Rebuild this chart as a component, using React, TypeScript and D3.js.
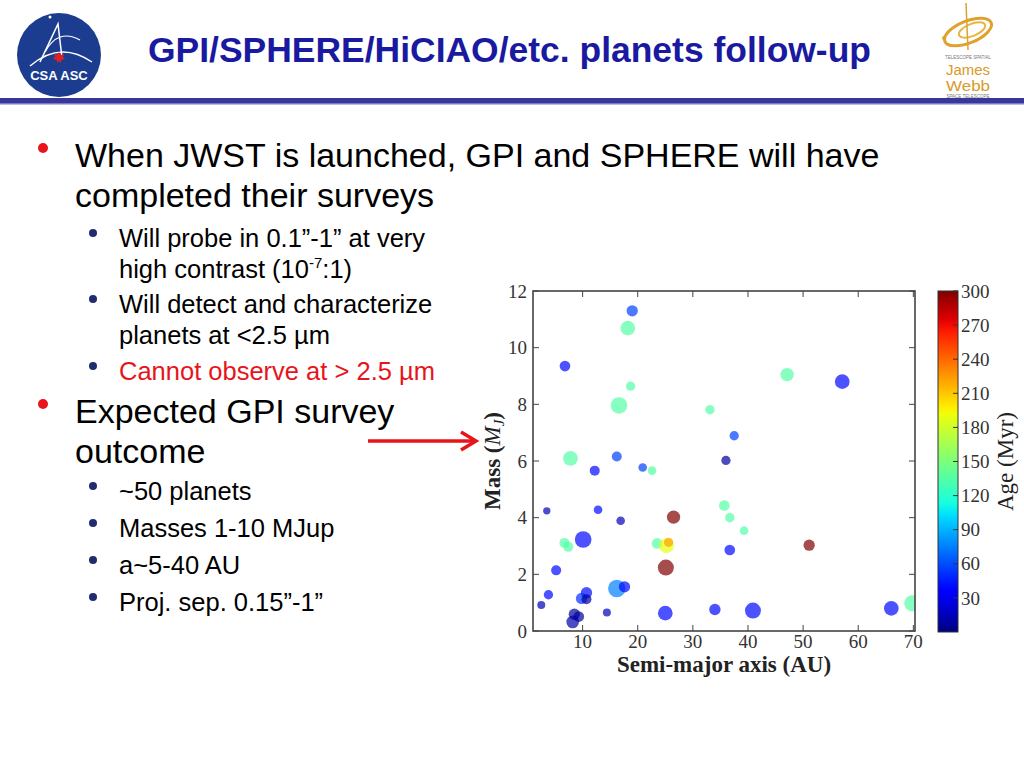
import React from 'react';
import * as d3 from 'd3';

// simulated GPI survey planets
const semiMajor = [19.0, 18.2, 6.8, 18.7, 16.6, 47.1, 57.1, 33.1, 37.5, 36.0, 7.8, 16.2, 12.2, 20.9, 22.6, 3.5, 12.8, 16.9, 26.5, 35.7, 36.7, 39.3, 10.1, 6.7, 7.4, 23.5, 25.2, 25.6, 25.1, 36.7, 51.1, 5.2, 3.8, 2.5, 16.2, 17.6, 10.7, 9.8, 10.7, 14.4, 8.5, 9.3, 8.2, 25.0, 34.0, 40.9, 66.0, 69.8];
const mass = [11.30, 10.69, 9.35, 8.64, 7.96, 9.05, 8.80, 7.81, 6.89, 6.02, 6.09, 6.16, 5.66, 5.77, 5.66, 4.24, 4.28, 3.89, 4.02, 4.43, 4.00, 3.54, 3.23, 3.11, 2.97, 3.09, 3.01, 3.13, 2.24, 2.86, 3.03, 2.14, 1.28, 0.92, 1.50, 1.56, 1.35, 1.15, 1.12, 0.65, 0.59, 0.51, 0.32, 0.63, 0.76, 0.72, 0.80, 0.98];
const age = [57, 135, 40, 135, 135, 135, 40, 135, 57, 10, 135, 57, 40, 57, 135, 15, 40, 15, 300, 135, 135, 135, 40, 135, 135, 135, 190, 222, 300, 40, 300, 40, 40, 15, 75, 40, 40, 52, 10, 15, 8, 8, 10, 40, 40, 40, 40, 135];
const brightness = [17, 22, 16, 14, 25, 20, 22, 14, 14, 14, 22, 15, 15, 13, 13, 11, 13, 13, 20, 16, 14, 13, 25, 15, 15, 16, 22, 14, 24, 16, 17, 15, 14, 12, 26, 17, 17, 17, 15, 12, 17, 16, 19, 22, 17, 24, 22, 24];

const xTicks = [10, 20, 30, 40, 50, 60, 70];
const yTicks = [0, 2, 4, 6, 8, 10, 12];
const ageTicks = [30, 60, 90, 120, 150, 180, 210, 240, 270, 300];

const mainBullets = [
  { lines: ['When JWST is launched, GPI and SPHERE will have', 'completed their surveys'], y: 167 },
  { lines: ['Expected GPI survey', 'outcome'], y: 423 },
];
const subBullets = [
  { lines: ['Will probe in 0.1\u201d-1\u201d at very', 'high contrast (10'], y: 247 },
  { lines: ['Will detect and characterize', 'planets at <2.5 \u00b5m'], y: 313 },
  { lines: ['Cannot observe at > 2.5 \u00b5m'], y: 380, red: true },
  { lines: ['~50 planets'], y: 500 },
  { lines: ['Masses 1-10 MJup'], y: 537 },
  { lines: ['a~5-40 AU'], y: 574 },
  { lines: ['Proj. sep. 0.15\u201d-1\u201d'], y: 611 },
];

// matplotlib "jet"
const jetR = d3.scaleLinear().domain([0, 0.35, 0.66, 0.89, 1]).range([0, 0, 1, 1, 0.5]).clamp(true);
const jetG = d3.scaleLinear().domain([0, 0.125, 0.375, 0.64, 0.91, 1]).range([0, 0, 1, 1, 0, 0]).clamp(true);
const jetB = d3.scaleLinear().domain([0, 0.11, 0.34, 0.65, 1]).range([0.5, 1, 1, 0, 0]).clamp(true);
const jet = (t: number) => d3.rgb(jetR(t) * 255, jetG(t) * 255, jetB(t) * 255).formatHex();

const sans = '"Liberation Sans", Arial, sans-serif';
const serif = '"Liberation Serif", "DejaVu Serif", serif';

const plot = { left: 533, right: 915, top: 291, bottom: 631 };
const cbar = { x: 938, w: 20, top: 291, bottom: 632 };

const App: React.FC = () => {
  const x = d3.scaleLinear().domain([1, 70.3]).range([plot.left, plot.right]);
  const y = d3.scaleLinear().domain([0, 12]).range([plot.bottom, plot.top]);
  const ageScale = d3.scaleLinear().domain([0, 300]).range([cbar.bottom, cbar.top]);
  const toT = d3.scaleLinear().domain([0, 300]).range([0, 1]).clamp(true);
  const rScale = d3.scaleLinear().domain([0, 30]).range([0, 10]);
  const stops = d3.range(0, 1.0001, 0.02);
  const tickLen = 6;
  const axisColor = '#444';

  return (
    <svg width={1024} height={768} style={{ position: 'absolute', left: 0, top: 0, background: '#fff' }}>
      <defs>
        <clipPath id="plot-clip">
          <rect x={plot.left} y={plot.top} width={plot.right - plot.left} height={plot.bottom - plot.top} />
        </clipPath>
        <linearGradient id="jet-grad" x1="0" y1="1" x2="0" y2="0">
          {stops.map((s) => (
            <stop key={s} offset={s} stopColor={jet(s)} />
          ))}
        </linearGradient>
      </defs>

      {/* header */}
      <text x={148} y={62} fontFamily={sans} fontWeight="bold" fontSize={35} fill="#1a1aa0"
        textLength={723} lengthAdjust="spacingAndGlyphs">
        GPI/SPHERE/HiCIAO/etc. planets follow-up
      </text>
      <rect x={0} y={98} width={1024} height={6} fill="#38389a" />
      <rect x={0} y={103} width={1024} height={1.5} fill="#7a7ac4" />

      {/* CSA logo */}
      <g>
        <circle cx={59} cy={55} r={42} fill="#1c3d8f" />
        <circle cx={50} cy={17} r={1.5} fill="#fff" />
        <path d="M 30 66 Q 60 40 92 62" fill="none" stroke="#fff" strokeWidth={1.5} />
        <path d="M 40 62 L 58 24 L 62 58" fill="none" stroke="#fff" strokeWidth={1.5} />
        <path d="M 45 52 Q 58 28 80 40" fill="none" stroke="#fff" strokeWidth={1.2} />
        <path d="M 59 52 l 2 3 l 3 -1 l -1 3 l 2 2 l -4 1 l 0 3 l -2 -2 l -2 2 l 0 -3 l -4 -1 l 2 -2 l -1 -3 l 3 1 z" fill="#e02020" />
        <text x={59} y={80} textAnchor="middle" fontFamily={sans} fontWeight="bold" fontSize={13} fill="#fff">CSA ASC</text>
      </g>

      {/* JWST logo */}
      <g>
        <ellipse cx={968} cy={32} rx={25} ry={11} transform="rotate(-22 968 32)" fill="none" stroke="#e0a22e" strokeWidth={3} />
        <ellipse cx={972} cy={30} rx={14} ry={6} transform="rotate(-22 972 30)" fill="none" stroke="#e8b446" strokeWidth={2} />
        <line x1={966} y1={3} x2={968} y2={50} stroke="#e0a22e" strokeWidth={1.5} />
        <circle cx={944} cy={38} r={2} fill="#e0a22e" />
        <text x={968} y={59} textAnchor="middle" fontFamily={sans} fontSize={4.5} fill="#777">TELESCOPE SPATIAL</text>
        <text x={968} y={75} textAnchor="middle" fontFamily={sans} fontSize={14} fill="#d89a28"
          textLength={44} lengthAdjust="spacingAndGlyphs">James</text>
        <text x={968} y={91} textAnchor="middle" fontFamily={sans} fontSize={14} fill="#d89a28"
          textLength={44} lengthAdjust="spacingAndGlyphs">Webb</text>
        <text x={968} y={97.5} textAnchor="middle" fontFamily={sans} fontSize={4.5} fill="#777">SPACE TELESCOPE</text>
      </g>

      {/* bullet text */}
      {mainBullets.map((b, i) => (
        <g key={`m${i}`}>
          <circle cx={43} cy={b.y - 19} r={5} fill="#e8141b" />
          {b.lines.map((l, j) => (
            <text key={j} x={75} y={b.y + j * 40} fontFamily={sans} fontSize={34} fill="#000">{l}</text>
          ))}
        </g>
      ))}
      {subBullets.map((b, i) => (
        <g key={`s${i}`}>
          <circle cx={93} cy={b.y - 14} r={4} fill="#1f2d6e" />
          {b.lines.map((l, j) => (
            <text key={j} x={119} y={b.y + j * 31} fontFamily={sans} fontSize={25.5} fill={b.red ? '#e8141b' : '#000'}>
              {l}
              {i === 0 && j === 1 && (
                <>
                  <tspan dy={-10} fontSize={15}>-7</tspan>
                  <tspan dy={10}>:1)</tspan>
                </>
              )}
            </text>
          ))}
        </g>
      ))}

      {/* arrow */}
      <line x1={368} y1={441} x2={474} y2={441} stroke="#e8141b" strokeWidth={3.5} />
      <path d="M 461 432 L 476 441 L 461 450" fill="none" stroke="#e8141b" strokeWidth={3.5} strokeLinejoin="miter" />

      {/* scatter */}
      <g clipPath="url(#plot-clip)">
        {semiMajor.map((a, i) => (
          <circle key={i} cx={x(a)} cy={y(mass[i])} r={rScale(brightness[i])}
            fill={jet(toT(age[i]))} fillOpacity={0.7} />
        ))}
      </g>

      {/* frame and ticks */}
      <rect x={plot.left} y={plot.top} width={plot.right - plot.left} height={plot.bottom - plot.top}
        fill="none" stroke={axisColor} strokeWidth={1.6} />
      {xTicks.map((t) => (
        <g key={`x${t}`}>
          <line x1={x(t)} x2={x(t)} y1={plot.bottom} y2={plot.bottom - tickLen} stroke={axisColor} />
          <line x1={x(t)} x2={x(t)} y1={plot.top} y2={plot.top + tickLen} stroke={axisColor} />
          <text x={x(t)} y={648} textAnchor="middle" fontFamily={serif} fontSize={19} fill="#333">{t}</text>
        </g>
      ))}
      {yTicks.map((t) => (
        <g key={`y${t}`}>
          <line x1={plot.left} x2={plot.left + tickLen} y1={y(t)} y2={y(t)} stroke={axisColor} />
          <line x1={plot.right} x2={plot.right - tickLen} y1={y(t)} y2={y(t)} stroke={axisColor} />
          <text x={527} y={y(t)} dy="0.35em" textAnchor="end" fontFamily={serif} fontSize={19} fill="#333">{t}</text>
        </g>
      ))}
      <text x={724} y={672} textAnchor="middle" fontFamily={serif} fontWeight="bold" fontSize={23} fill="#222">
        Semi-major axis (AU)
      </text>
      <text transform={`translate(500,${(plot.top + plot.bottom) / 2}) rotate(-90)`} textAnchor="middle"
        fontFamily={serif} fontSize={23} fill="#222">
        <tspan fontWeight="bold">Mass (</tspan>
        <tspan fontStyle="italic">M</tspan>
        <tspan fontStyle="italic" fontSize={15} dy={4}>J</tspan>
        <tspan fontWeight="bold" dy={-4}>)</tspan>
      </text>

      {/* colorbar */}
      <rect x={cbar.x} y={cbar.top} width={cbar.w} height={cbar.bottom - cbar.top} fill="url(#jet-grad)" stroke="#333" strokeWidth={1} />
      {ageTicks.map((t) => (
        <g key={`a${t}`}>
          <line x1={cbar.x + cbar.w - 5} x2={cbar.x + cbar.w} y1={ageScale(t)} y2={ageScale(t)} stroke="#333" />
          <text x={961} y={ageScale(t)} dy="0.35em" fontFamily={serif} fontSize={19} fill="#333">{t}</text>
        </g>
      ))}
      <text transform={`translate(1013,${(cbar.top + cbar.bottom) / 2}) rotate(-90)`} textAnchor="middle"
        fontFamily={serif} fontSize={23} fill="#222">
        Age (Myr)
      </text>
    </svg>
  );
};

export default App;
